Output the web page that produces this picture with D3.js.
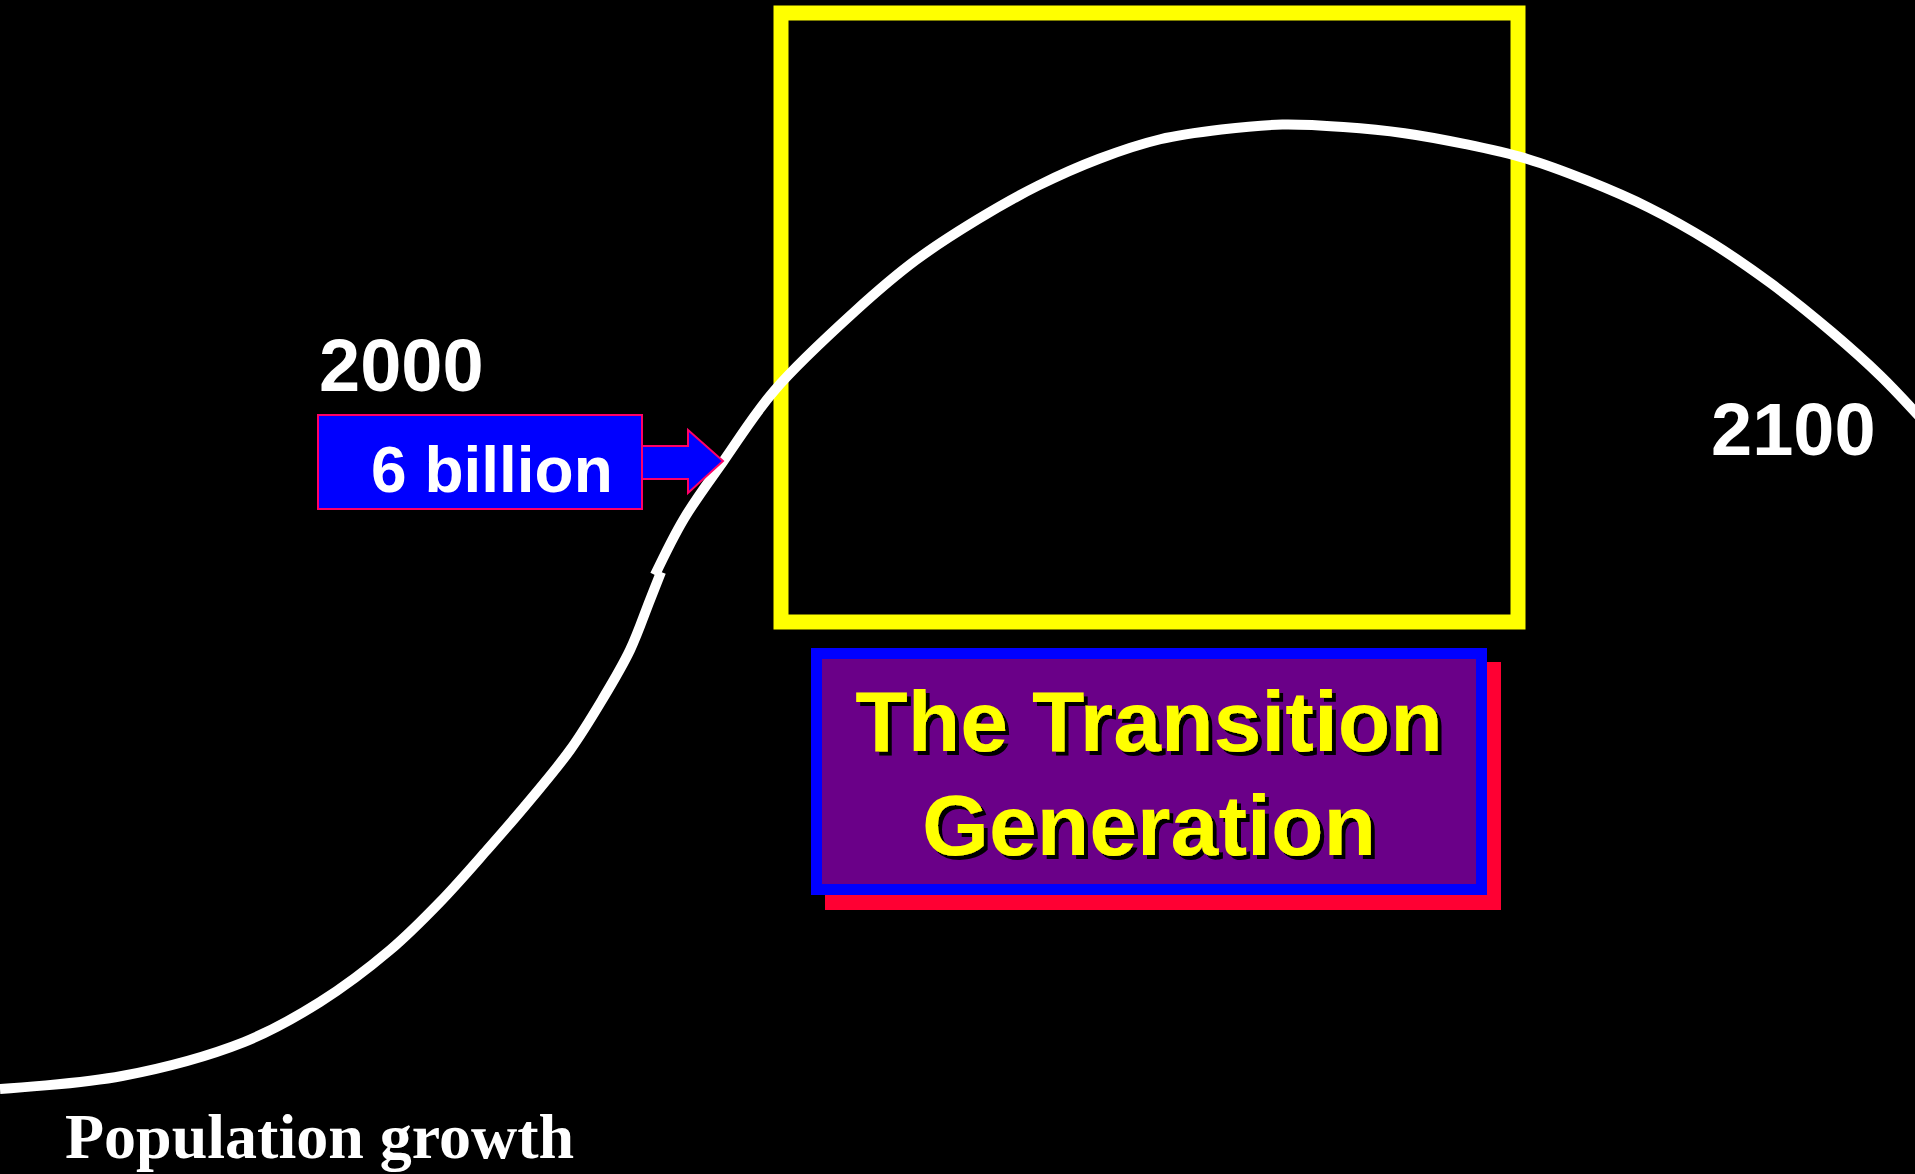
<!DOCTYPE html>
<html><head><meta charset="utf-8">
<script src="https://cdn.jsdelivr.net/npm/d3@7"></script>
<style>html,body{margin:0;padding:0;background:#000;overflow:hidden}</style>
</head><body>
<svg id="c" width="1915" height="1174"></svg>
<script>
// Time index (0-100 across the slide) and population index (0 = start, 100 = peak)
const lowerT = [0, 6.37, 12.74, 16.71, 20.37, 22.98, 25.43, 27.68, 29.77, 31.44, 32.90, 33.94, 34.52];
const lowerV = [0, 1.35, 4.87, 9.02, 14.41, 19.39, 24.78, 29.97, 35.15, 40.34, 45.52, 50.70, 53.61];
const upperT = [34.20, 35.71, 37.76, 40.43, 44.64, 47.83, 51.02, 54.21, 57.40, 60.59, 63.78, 66.96, 70.15, 73.34, 76.53, 79.72, 82.91, 86.10, 89.29, 92.47, 95.66, 98.21, 100.45];
const upperV = [53.30, 59.11, 65.06, 72.41, 80.63, 85.95, 90.13, 93.67, 96.46, 98.48, 99.49, 100, 99.75, 99.11, 97.97, 96.46, 94.18, 91.39, 87.85, 83.54, 78.48, 73.92, 69.24];
const yearLabels = ["2000", "2100"];
const populationLabel = ["6 billion"];
const titleLines = ["The Transition", "Generation"];
const footLabel = ["Population growth"];

const svg = d3.select("#c");
const defs = svg.append("defs");
const f = defs.append("filter").attr("id","sh").attr("x","-10%").attr("y","-10%").attr("width","120%").attr("height","130%");
f.append("feDropShadow").attr("dx",4).attr("dy",4).attr("stdDeviation",0).attr("flood-color","#000").attr("flood-opacity",1);

svg.append("rect").attr("width",1915).attr("height",1174).attr("fill","#000");

const x = d3.scaleLinear().domain([0,100]).range([0,1915]);
const y = d3.scaleLinear().domain([0,100]).range([1089,124.6]);
const line = d3.line().x(d=>x(d[0])).y(d=>y(d[1])).curve(d3.curveCatmullRom.alpha(0.5));

// yellow frame
svg.append("rect").attr("x",781).attr("y",13).attr("width",737).attr("height",609)
  .attr("fill","none").attr("stroke","#ffff00").attr("stroke-width",15);

// curve
const lower = lowerT.map((t,i)=>[t,lowerV[i]]);
const upper = upperT.map((t,i)=>[t,upperV[i]]);
svg.append("path").attr("d",line(lower)).attr("fill","none").attr("stroke","#fff").attr("stroke-width",10);
svg.append("path").attr("d",line(upper)).attr("fill","none").attr("stroke","#fff").attr("stroke-width",10);

// year labels
svg.append("text").attr("x",319).attr("y",391).text(yearLabels[0])
  .attr("font-family","'Liberation Sans', Arial, sans-serif").attr("font-weight","bold").attr("font-size",74).attr("fill","#fff");
svg.append("text").attr("x",1711).attr("y",455).text(yearLabels[1])
  .attr("font-family","'Liberation Sans', Arial, sans-serif").attr("font-weight","bold").attr("font-size",74).attr("fill","#fff");

// 6 billion box + arrow
svg.append("rect").attr("x",318).attr("y",415).attr("width",324).attr("height",94)
  .attr("fill","#0000ff").attr("stroke","#ff0066").attr("stroke-width",2);
svg.append("polygon").attr("points","642,446 688,446 688,430 723,461 688,493 688,479 642,479")
  .attr("fill","#0000ff").attr("stroke","#ff0066").attr("stroke-width",2).attr("stroke-linejoin","miter");
svg.append("text").attr("x",371).attr("y",492).text(populationLabel[0])
  .attr("font-family","'Liberation Sans', Arial, sans-serif").attr("font-weight","bold").attr("font-size",64).attr("fill","#fff");

// transition box
svg.append("rect").attr("x",825).attr("y",662).attr("width",676).attr("height",248).attr("fill","#ff0033");
svg.append("rect").attr("x",816.5).attr("y",653.5).attr("width",665).attr("height",236)
  .attr("fill","#6a0088").attr("stroke","#0000ff").attr("stroke-width",11);
const tl = [[751,titleLines[0]],[855,titleLines[1]]];
tl.forEach(([by,t])=>{
  svg.append("text").attr("x",1149).attr("y",by).attr("text-anchor","middle").text(t)
    .attr("font-family","'Liberation Sans', Arial, sans-serif").attr("font-weight","bold").attr("font-size",86)
    .attr("fill","#ffff00").attr("filter","url(#sh)");
});

// footer
svg.append("text").attr("x",65).attr("y",1158).text(footLabel[0])
  .attr("font-family","'Liberation Serif', 'Times New Roman', serif").attr("font-weight","bold").attr("font-size",64).attr("fill","#fff");
</script>
</body></html>
